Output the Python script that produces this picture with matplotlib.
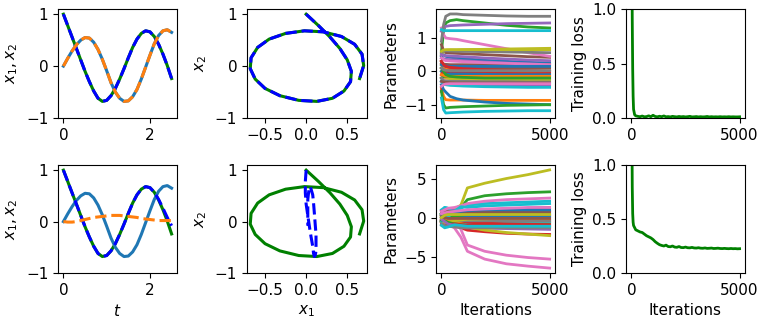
import numpy as np
import matplotlib
matplotlib.use('Agg')
import matplotlib.pyplot as plt

plt.rcParams['font.size'] = 11

# time grid of the trajectories
t = [0.0, 0.1, 0.2, 0.3, 0.4, 0.5, 0.6, 0.7, 0.8, 0.9, 1.0, 1.1, 1.2,
     1.3, 1.4, 1.5, 1.6, 1.7, 1.8, 1.9, 2.0, 2.1, 2.2, 2.3, 2.4, 2.5]

# true states (the curve starting at 1 and the one starting at 0)
xa_true = [1.00, 0.78, 0.56, 0.34, 0.12, -0.10, -0.30, -0.48, -0.62, -0.68,
           -0.66, -0.57, -0.43, -0.25, -0.05, 0.16, 0.36, 0.52, 0.63, 0.68,
           0.66, 0.57, 0.42, 0.23, 0.01, -0.24]
xb_true = [0.00, 0.15, 0.29, 0.41, 0.50, 0.55, 0.54, 0.46, 0.32, 0.13,
           -0.09, -0.32, -0.50, -0.62, -0.68, -0.67, -0.59, -0.45, -0.25, -0.02,
           0.21, 0.43, 0.59, 0.68, 0.70, 0.65]

# model predictions, top row (good fit) and bottom row (bad fit)
xa_pred_top = xa_true
xb_pred_top = xb_true
xa_pred_bot = [1.00, 0.78, 0.56, 0.34, 0.12, -0.10, -0.30, -0.48, -0.62, -0.68,
               -0.66, -0.57, -0.43, -0.25, -0.05, 0.16, 0.36, 0.52, 0.63, 0.68,
               0.66, 0.57, 0.43, 0.26, 0.08, -0.08]
xb_pred_bot = [0.00, -0.01, -0.01, 0.00, 0.02, 0.04, 0.06, 0.08, 0.09, 0.10,
               0.11, 0.12, 0.12, 0.12, 0.11, 0.10, 0.09, 0.08, 0.06, 0.05,
               0.04, 0.03, 0.02, 0.02, 0.02, 0.02]

# parameter trajectories, sampled at these iterations
param_iters_top = [0, 100, 200, 400, 700, 1000, 2000, 3000, 4000, 5000]
params_top = [
    [0.45, 0.50, 0.45, 0.42, 0.40, 0.38, 0.33, 0.30, 0.27, 0.25],
    [-0.50, -0.75, -0.85, -0.86, -0.86, -0.86, -0.87, -0.87, -0.87, -0.87],
    [0.60, 1.20, 1.45, 1.52, 1.55, 1.52, 1.45, 1.38, 1.33, 1.30],
    [-0.60, -0.30, -0.05, 0.00, 0.00, 0.00, -0.02, -0.03, -0.04, -0.05],
    [1.20, 1.30, 1.35, 1.37, 1.38, 1.39, 1.41, 1.43, 1.44, 1.45],
    [0.80, 0.62, 0.56, 0.55, 0.54, 0.53, 0.50, 0.47, 0.44, 0.42],
    [1.30, 1.10, 1.00, 0.98, 0.96, 0.92, 0.80, 0.68, 0.56, 0.45],
    [0.90, 1.40, 1.65, 1.72, 1.72, 1.70, 1.68, 1.66, 1.65, 1.65],
    [0.50, 0.60, 0.63, 0.64, 0.64, 0.65, 0.66, 0.67, 0.68, 0.69],
    [1.25, 1.22, 1.22, 1.22, 1.22, 1.22, 1.22, 1.22, 1.22, 1.22],
    [-0.40, -0.55, -0.62, -0.75, -0.82, -0.86, -0.92, -0.96, -0.98, -1.00],
    [0.30, 0.15, 0.10, 0.08, 0.06, 0.05, 0.03, 0.02, 0.01, 0.00],
    [-0.60, -1.00, -1.10, -1.08, -1.07, -1.06, -1.04, -1.02, -1.01, -1.00],
    [0.10, 0.05, 0.02, 0.00, -0.02, -0.04, -0.06, -0.08, -0.09, -0.10],
    [0.40, 0.38, 0.36, 0.35, 0.34, 0.32, 0.28, 0.25, 0.22, 0.20],
    [0.25, 0.22, 0.21, 0.20, 0.20, 0.20, 0.20, 0.20, 0.20, 0.20],
    [-0.20, -0.22, -0.23, -0.24, -0.24, -0.25, -0.25, -0.25, -0.25, -0.25],
    [0.55, 0.62, 0.62, 0.61, 0.60, 0.60, 0.59, 0.58, 0.57, 0.56],
    [0.00, -0.15, -0.20, -0.22, -0.23, -0.24, -0.25, -0.25, -0.25, -0.25],
    [-0.80, -1.15, -1.25, -1.24, -1.23, -1.22, -1.20, -1.19, -1.18, -1.18],
    [0.00, -0.05, -0.06, -0.07, -0.08, -0.08, -0.09, -0.10, -0.10, -0.10],
    [0.20, 0.15, 0.14, 0.13, 0.12, 0.12, 0.11, 0.10, 0.10, 0.10],
    [-0.20, -0.15, -0.15, -0.15, -0.15, -0.15, -0.16, -0.16, -0.17, -0.17],
    [-0.10, 0.00, 0.00, 0.01, 0.02, 0.03, 0.03, 0.02, 0.01, 0.00],
    [-0.30, -0.38, -0.40, -0.40, -0.40, -0.40, -0.40, -0.40, -0.40, -0.40],
    [0.30, 0.20, 0.15, 0.12, 0.11, 0.10, 0.10, 0.10, 0.10, 0.10],
    [0.40, 0.35, 0.32, 0.31, 0.30, 0.29, 0.26, 0.24, 0.22, 0.20],
    [-0.20, -0.28, -0.30, -0.30, -0.30, -0.30, -0.31, -0.31, -0.32, -0.32],
    [0.60, 0.64, 0.65, 0.65, 0.65, 0.65, 0.65, 0.65, 0.65, 0.65],
    [-0.30, -0.38, -0.40, -0.42, -0.43, -0.44, -0.46, -0.47, -0.48, -0.48],
    [0.20, 0.17, 0.16, 0.15, 0.15, 0.15, 0.15, 0.15, 0.15, 0.15],
    [-0.10, -0.12, -0.14, -0.15, -0.15, -0.15, -0.15, -0.15, -0.15, -0.15],
    [0.10, 0.00, -0.10, -0.15, -0.17, -0.18, -0.20, -0.20, -0.20, -0.20],
    [0.30, 0.20, 0.15, 0.12, 0.10, 0.08, 0.05, 0.03, 0.02, 0.00],
    [0.50, 0.48, 0.47, 0.46, 0.45, 0.44, 0.40, 0.37, 0.34, 0.32],
    [-0.30, -0.32, -0.33, -0.34, -0.35, -0.35, -0.35, -0.35, -0.35, -0.35],
    [-0.45, -0.40, -0.38, -0.37, -0.37, -0.37, -0.37, -0.37, -0.37, -0.37],
    [0.10, 0.05, 0.03, 0.02, 0.02, 0.02, 0.02, 0.02, 0.02, 0.02],
]

param_iters_bot = [0, 150, 300, 600, 900, 1200, 2000, 3000, 4000, 5000]
params_bot = [
    [0.5, 0.8, 0.6, 0.7, 0.5, 0.4, 0.3, 0.25, 0.2, 0.2],
    [-0.3, -0.5, -0.4, -0.6, -0.5, -0.4, -0.5, -0.6, -0.65, -0.7],
    [0.3, 0.6, 0.9, 1.0, 1.3, 2.3, 2.8, 3.05, 3.2, 3.3],
    [-0.5, -0.8, -0.9, -1.0, -1.3, -1.6, -1.8, -2.0, -2.1, -2.15],
    [-0.6, -0.9, -1.0, -1.1, -1.2, -1.3, -1.35, -1.4, -1.45, -1.5],
    [0.4, 0.6, 0.7, 0.6, 0.8, 0.9, 1.0, 1.1, 1.2, 1.3],
    [0.3, 0.2, 0.0, -0.3, -1.5, -3.5, -4.3, -4.8, -5.1, -5.3],
    [-0.3, -0.5, -0.6, -0.7, -0.8, -0.8, -0.8, -0.8, -0.8, -0.8],
    [0.5, 0.8, 1.0, 1.1, 1.6, 3.8, 4.4, 5.0, 5.5, 6.1],
    [1.0, 1.3, 1.2, 0.9, 1.2, 1.6, 1.8, 1.9, 2.0, 2.1],
    [-0.4, -0.6, -0.5, -0.3, -0.4, -0.4, -0.3, -0.3, -0.3, -0.3],
    [0.2, 0.4, 0.3, 0.5, 0.4, 0.3, 0.3, 0.3, 0.3, 0.3],
    [-0.5, -0.8, -1.0, -0.9, -0.8, -0.7, -0.65, -0.6, -0.6, -0.6],
    [0.4, 0.3, 0.2, 0.1, 0.2, 0.2, 0.25, 0.3, 0.3, 0.3],
    [0.8, 1.0, 1.0, 0.9, 0.8, 0.7, 0.75, 0.8, 0.85, 0.9],
    [-0.2, -0.3, -0.4, -0.5, -0.5, -0.5, -0.5, -0.5, -0.5, -0.5],
    [-0.3, -0.5, -0.8, -1.3, -2.5, -4.3, -5.3, -5.9, -6.2, -6.45],
    [-0.5, -0.8, -1.0, -1.1, -1.1, -1.1, -1.1, -1.1, -1.1, -1.1],
    [0.2, -0.2, -0.4, -0.6, -0.8, -1.2, -1.6, -1.9, -2.1, -2.3],
    [0.5, 1.3, 1.2, 0.5, -1.0, -0.8, -0.6, -0.5, -0.5, -0.5],
    [0.0, 0.2, 0.1, 0.0, 0.1, 0.1, 0.1, 0.1, 0.1, 0.1],
    [-0.6, -0.8, -0.7, -0.6, -0.6, -0.5, -0.4, -0.4, -0.4, -0.4],
    [0.6, 0.4, 0.3, 0.2, 0.3, 0.4, 0.5, 0.5, 0.5, 0.5],
    [-0.2, -0.3, -0.2, -0.3, -0.4, -0.6, -0.7, -0.8, -0.85, -0.9],
    [0.2, 0.3, 0.4, 0.5, 0.6, 0.7, 0.8, 0.85, 0.9, 0.95],
    [0.8, 0.9, 0.8, 0.7, 0.7, 0.7, 0.7, 0.7, 0.7, 0.7],
    [0.8, 1.0, 1.2, 1.3, 1.5, 1.8, 2.1, 2.3, 2.4, 2.5],
    [0.0, -0.2, -0.3, -0.4, -0.4, -0.4, -0.4, -0.4, -0.4, -0.4],
    [-0.4, -0.6, -0.5, -0.4, -0.3, -0.2, -0.15, -0.1, -0.1, -0.1],
    [-0.5, -0.3, 0.1, 0.8, 1.4, 1.3, 1.5, 1.6, 1.7, 1.8],
    [0.3, 0.5, 0.6, 0.7, 0.8, 0.9, 1.0, 1.0, 1.0, 1.0],
    [-0.1, -0.2, -0.2, -0.1, -0.1, -0.1, -0.1, -0.1, -0.1, -0.1],
    [-0.3, -0.4, -0.6, -0.8, -0.9, -1.0, -1.1, -1.15, -1.2, -1.2],
    [-0.9, -1.0, -0.9, -0.8, -0.9, -1.0, -1.0, -1.0, -1.0, -1.0],
    [-0.2, -0.5, -0.8, -1.0, -1.1, -1.2, -1.2, -1.25, -1.25, -1.3],
    [0.1, 0.0, -0.1, -0.1, -0.1, -0.1, -0.1, -0.1, -0.1, -0.1],
    [0.5, 0.6, 0.7, 0.8, 0.9, 1.0, 1.1, 1.2, 1.3, 1.3],
    [-0.8, -1.0, -1.1, -1.2, -1.3, -1.3, -1.3, -1.3, -1.3, -1.3],
    [0.0, 0.3, 0.4, 0.4, 0.4, 0.4, 0.4, 0.4, 0.4, 0.4],
    [-1.0, -1.3, -1.2, -0.9, -1.0, -1.1, -1.1, -1.1, -1.1, -1.1],
]

# training loss
loss_iters = [0, 20, 40, 60, 80, 100, 150, 200] + list(range(300, 5001, 100))
loss_top = [3.0, 1.6, 0.9, 0.45, 0.2, 0.08, 0.03, 0.02,
            0.015, 0.012, 0.018, 0.011, 0.013, 0.02, 0.012, 0.025, 0.014, 0.011,
            0.016, 0.012, 0.019, 0.011, 0.013, 0.01, 0.015, 0.012, 0.01, 0.014,
            0.011, 0.013, 0.01, 0.012, 0.015, 0.01, 0.011, 0.013, 0.01, 0.012,
            0.01, 0.011, 0.014, 0.01, 0.012, 0.01, 0.011, 0.01, 0.012, 0.01,
            0.011, 0.01, 0.012, 0.01, 0.011, 0.01, 0.01, 0.011]
loss_bot = [3.0, 1.5, 0.8, 0.55, 0.47, 0.44, 0.42, 0.40,
            0.39, 0.38, 0.375, 0.36, 0.345, 0.335, 0.325, 0.31, 0.29, 0.275,
            0.262, 0.255, 0.25, 0.258, 0.245, 0.243, 0.25, 0.24, 0.238, 0.245,
            0.236, 0.235, 0.24, 0.234, 0.233, 0.237, 0.232, 0.231, 0.234, 0.23,
            0.229, 0.232, 0.228, 0.229, 0.231, 0.227, 0.228, 0.23, 0.227, 0.226,
            0.228, 0.226, 0.225, 0.227, 0.225, 0.226, 0.224, 0.225]


fig = plt.figure(figsize=(7.62, 3.24), dpi=100)

lefts = [0.0761, 0.3241, 0.5722, 0.8215]
widths = [0.1562, 0.1575, 0.1562, 0.1562]
bottoms = [0.6358, 0.1574]
heights = [0.3364, 0.3333]

rows = [(xa_pred_top, xb_pred_top, params_top, param_iters_top, loss_top),
        (xa_pred_bot, xb_pred_bot, params_bot, param_iters_bot, loss_bot)]

lw = 2.2
for r, (xa_p, xb_p, params, p_iters, loss) in enumerate(rows):
    axs = [fig.add_axes([lefts[c], bottoms[r], widths[c], heights[r]]) for c in range(4)]

    # time series
    ax = axs[0]
    ax.plot(t, xa_true, color='g', lw=lw)
    ax.plot(t, xb_true, color='C0', lw=lw)
    ax.plot(t, xa_p, 'b--', lw=lw)
    ax.plot(t, xb_p, '--', color='C1', lw=lw)
    ax.set_ylim(-1, 1.1)
    ax.set_xticks([0, 2])
    ax.set_yticks([-1, 0, 1])
    ax.set_ylabel('$x_1, x_2$')

    # phase portrait
    ax = axs[1]
    ax.plot(xb_true, xa_true, color='g', lw=lw)
    ax.plot(xb_p, xa_p, 'b--', lw=lw)
    ax.set_ylim(-1, 1.1)
    ax.set_xlim(-0.72, 0.74)
    ax.set_xticks([-0.5, 0.0, 0.5])
    ax.set_yticks([-1, 0, 1])
    ax.set_ylabel('$x_2$')

    # parameters
    ax = axs[2]
    for p in params:
        ax.plot(p_iters, p, lw=2)
    ax.set_xticks([0, 5000])
    ax.set_ylabel('Parameters')

    # loss
    ax = axs[3]
    ax.plot(loss_iters, loss, color='g', lw=2)
    ax.set_ylim(0, 1)
    ax.set_xticks([0, 5000])
    ax.set_yticks([0.0, 0.5, 1.0])
    ax.set_ylabel('Training loss')

    if r == 1:
        axs[0].set_xlabel('$t$')
        axs[1].set_xlabel('$x_1$')
        axs[2].set_xlabel('Iterations')
        axs[3].set_xlabel('Iterations')
        axs[2].set_yticks([-5, 0, 5])
    else:
        axs[2].set_yticks([-1, 0, 1])

fig.savefig('out.png', dpi=100)
